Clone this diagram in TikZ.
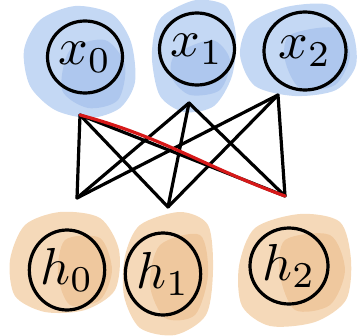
\documentclass[tikz,border=0pt]{standalone}
\usepackage{amsmath}
\usepackage{graphicx}
\usepackage{tikz}
\usetikzlibrary{positioning, shapes.geometric}
\newcommand{\unitlabel}[1]{\scalebox{5.2}{$#1$}}

\begin{document}
\begin{tikzpicture}[
  x=1pt, y=-1pt,
  washblue/.style={fill=washb, fill opacity=0.45, draw=none},
  washbluedk/.style={fill=washbd, fill opacity=0.2, draw=none},
  washorange/.style={fill=washo, fill opacity=0.5, draw=none},
  washorangedk/.style={fill=washod, fill opacity=0.25, draw=none},
  unit/.style={draw=black, line width=3.2pt, ellipse, inner sep=0pt},
  link/.style={black, line width=3.2pt, line cap=round},
  hot/.style={link, draw=linkred},
]
\definecolor{washb}{RGB}{125,168,230}
\definecolor{washbd}{RGB}{85,135,215}
\definecolor{washo}{RGB}{236,180,115}
\definecolor{washod}{RGB}{222,150,80}
\definecolor{linkred}{RGB}{215,25,25}
\useasboundingbox (0,0) rectangle (359,335);
% watercolour washes behind the input units
\fill[washblue] plot[smooth cycle] coordinates {(40,20) (75,6) (112,14) (131,42) (135,82) (120,108) (90,118) (55,110) (30,86) (24,50)};
\fill[washbluedk] plot[smooth cycle] coordinates {(70,50) (105,40) (125,65) (118,100) (88,108) (62,90)};
\fill[washblue] plot[smooth cycle] coordinates {(165,14) (196,0) (226,6) (236,36) (232,76) (214,106) (184,112) (160,96) (152,60) (155,30)};
\fill[washbluedk] plot[smooth cycle] coordinates {(175,55) (212,40) (230,60) (220,90) (190,95) (172,78)};
\fill[washblue] plot[smooth cycle] coordinates {(250,24) (286,7) (330,5) (352,30) (356,65) (336,90) (295,96) (255,86) (240,55)};
\fill[washbluedk] plot[smooth cycle] coordinates {(290,35) (335,28) (350,55) (335,85) (300,88) (285,60)};
% watercolour washes behind the hidden units
\fill[washorange] plot[smooth cycle] coordinates {(25,225) (60,212) (100,218) (119,250) (115,290) (85,310) (45,312) (15,296) (10,260)};
\fill[washorangedk] plot[smooth cycle] coordinates {(65,240) (100,238) (112,270) (100,300) (70,305) (58,275)};
\fill[washorange] plot[smooth cycle] coordinates {(140,225) (180,212) (208,225) (213,270) (206,315) (175,335) (140,328) (124,296) (125,256)};
\fill[washorangedk] plot[smooth cycle] coordinates {(160,245) (200,235) (208,275) (195,315) (165,318) (150,285)};
\fill[washorange] plot[smooth cycle] coordinates {(255,228) (300,214) (340,222) (351,260) (346,300) (315,322) (270,326) (242,306) (239,266)};
\fill[washorangedk] plot[smooth cycle] coordinates {(285,240) (330,235) (345,270) (330,305) (295,310) (280,275)};
% units
\node[unit, minimum width=70pt, minimum height=72pt] (x0) at (85,57) {\unitlabel{x_0}};
\node[unit, minimum width=70pt, minimum height=72pt] (x1) at (197,49) {\unitlabel{x_1}};
\node[unit, minimum width=82pt, minimum height=78pt] (x2) at (305,51) {\unitlabel{x_2}};
\node[unit, minimum width=66pt, minimum height=80pt] (h0) at (67,270) {\unitlabel{h_0}};
\node[unit, minimum width=74pt, minimum height=82pt] (h1) at (163,274) {\unitlabel{h_1}};
\node[unit, minimum width=78pt, minimum height=76pt] (h2) at (289,266) {\unitlabel{h_2}};
% ends of the connections
\coordinate (t0) at (80,115);
\coordinate (t1) at (189,103);
\coordinate (t2) at (278,95);
\coordinate (b0) at (77,198);
\coordinate (b1) at (168,207);
\coordinate (b2) at (285,196);
% every input to every hidden unit, one of them marked
\foreach \i in {0,1,2}
  \foreach \j in {0,1,2}
    \draw[link] (t\i) -- (b\j);
\draw[hot] (t0) to[out=-15, in=160] (b2);
\end{tikzpicture}
\end{document}
